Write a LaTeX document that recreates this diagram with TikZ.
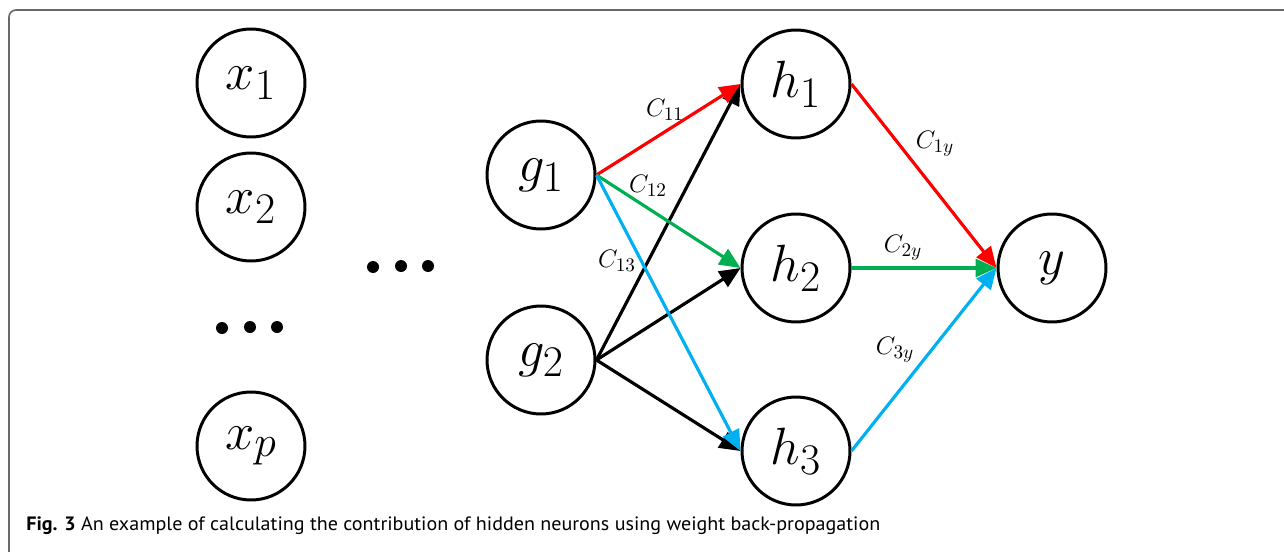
\documentclass[tikz,border=0pt]{standalone}
\usepackage{fontspec}
\usepackage{graphicx}
\usetikzlibrary{arrows.meta}
\newfontfamily\capfont{PT Sans}
\definecolor{cred}{RGB}{255,0,0}
\definecolor{cgreen}{RGB}{0,176,80}
\definecolor{cblue}{RGB}{0,176,240}
\definecolor{framegray}{RGB}{105,105,105}
\newcommand{\neurontext}[1]{\scalebox{1.2}{$#1$}}
\begin{document}
\begin{tikzpicture}[x=0.02cm,y=-0.02cm,
  neuron/.style={circle,draw,line width=1.7pt,minimum size=2.16cm,inner sep=0pt,font=\fontsize{24.88}{30}\selectfont},
  wlabel/.style={font=\fontsize{15}{18}\selectfont,inner sep=0pt},
  conn/.style={line width=1.8pt,-{Triangle[length=0.42cm,width=0.36cm]}},
  bigdot/.style={circle,fill=black,inner sep=0pt,minimum size=0.24cm}
]
\useasboundingbox (0,0) rectangle (1284,551);
\clip (0,0) rectangle (1284,551);
\draw[framegray,line width=0.9pt,rounded corners=0.14cm] (9,10) rectangle (1320,600);

% neurons
\node[neuron] (x1) at (251,83) {\neurontext{x_1}};
\node[neuron] (x2) at (251,207) {\neurontext{x_2}};
\node[neuron] (xp) at (251,446) {\neurontext{x_p}};
\node[neuron] (g1) at (541,175) {\neurontext{g_1}};
\node[neuron] (g2) at (541,360) {\neurontext{g_2}};
\node[neuron] (h1) at (796,84) {\neurontext{h_1}};
\node[neuron] (h2) at (796,268) {\neurontext{h_2}};
\node[neuron] (h3) at (796,451) {\neurontext{h_3}};
\node[neuron] (y) at (1052,268) {\neurontext{y}};

% ellipsis dots
\node[bigdot] (da1) at (222,328) {};
\node[bigdot] (da2) at (250,327) {};
\node[bigdot] (da3) at (277,327) {};
\node[bigdot] (db1) at (373,267) {};
\node[bigdot] (db2) at (401,266) {};
\node[bigdot] (db3) at (428,266) {};

% black connectors
\draw[conn] (g2.east) -- (h1.west);
\draw[conn] (g2.east) -- (h2.west);
\draw[conn] (g2.east) -- (h3.west);
% coloured connectors
\draw[conn,cred] (g1.east) -- (h1.west);
\draw[conn,cgreen] (g1.east) -- (h2.west);
\draw[conn,cblue] (g1.east) -- (h3.west);
\draw[conn,cred] (h1.east) -- (y.west);
\draw[conn,cgreen] (h2.east) -- (y.west);
\draw[conn,cblue] (h3.east) -- (y.west);

% weight labels
\node[wlabel] (c11) at (665,110) {$C_{11}$};
\node[wlabel] (c12) at (648,186) {$C_{12}$};
\node[wlabel] (c13) at (617,261) {$C_{13}$};
\node[wlabel] (c1y) at (935,144) {$C_{1y}$};
\node[wlabel] (c2y) at (903,248) {$C_{2y}$};
\node[wlabel] (c3y) at (895,350) {$C_{3y}$};

% caption
\node[anchor=base west,inner sep=0pt,font=\capfont\fontsize{11}{13}\selectfont] (cap) at (26,530)
  {\resizebox{486pt}{\height}{\textbf{Fig. 3} An example of calculating the contribution of hidden neurons using weight back-propagation}};
\end{tikzpicture}
\end{document}
